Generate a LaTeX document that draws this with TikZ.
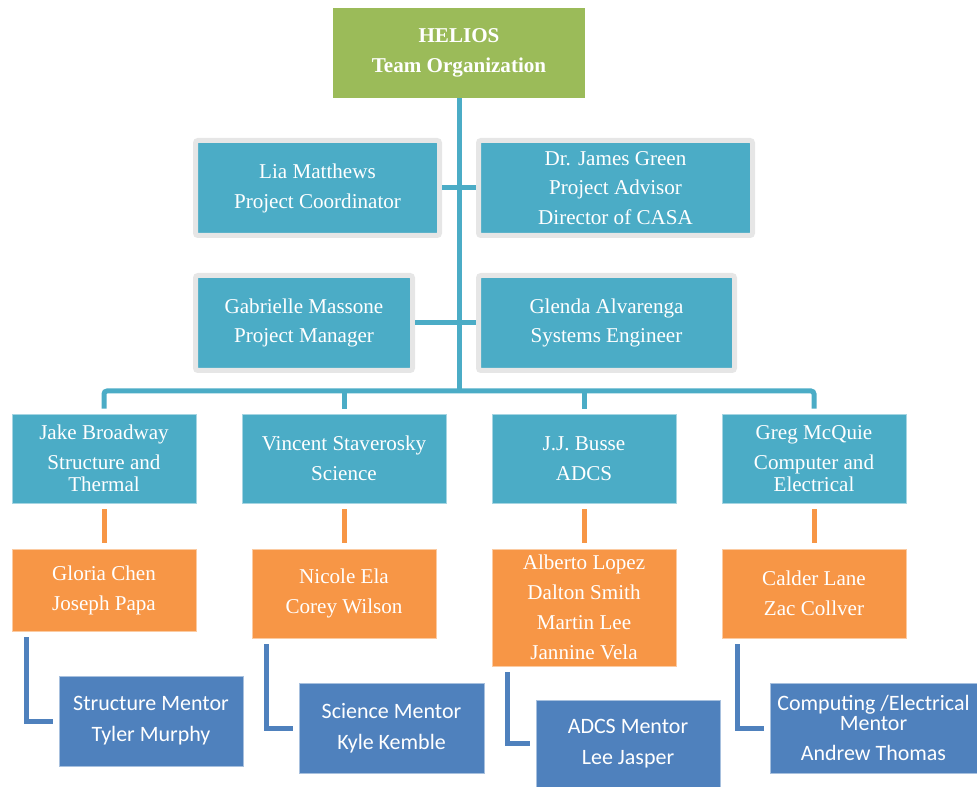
\documentclass[tikz,border=0pt]{standalone}
\usepackage{fontspec}
\setmainfont{Liberation Serif}
\newfontfamily\mentorfont{Carlito}
\usepackage{xcolor}

\definecolor{heliosgreen}{HTML}{9BBB59}
\definecolor{tealbox}{HTML}{4BACC6}
\definecolor{orangebox}{HTML}{F79646}
\definecolor{mentorblue}{HTML}{4F81BD}
\definecolor{framegray}{HTML}{E6E6E6}

\begin{document}
\begin{tikzpicture}
\tikzstyle{box} = [
	shape=rectangle,
	text=white,
	align=center,
	inner sep=0pt,
	font=\fontsize{12}{17}\selectfont
];
\tikzstyle{lead} = [box, fill=tealbox, draw=framegray, line width=0.1cm, rounded corners=0.05cm, minimum height=1.9cm];
\tikzstyle{team} = [box, fill=tealbox, draw=tealbox!50!white, line width=0.4pt, minimum width=3.68cm, minimum height=1.78cm];
\tikzstyle{member} = [box, fill=orangebox, draw=orangebox!50!white, line width=0.4pt, minimum width=3.68cm];
\tikzstyle{mentor} = [box, fill=mentorblue, draw=mentorblue!50!white, line width=0.4pt, font=\mentorfont\fontsize{12.5}{17.5}\selectfont];
\tikzstyle{link} = [line width=0.1cm];

\useasboundingbox (0,0) rectangle (19.54,-15.74);

%top of the chart
\node[box, fill=heliosgreen, minimum width=5.04cm, minimum height=1.8cm, font=\bfseries\fontsize{12}{17}\selectfont]
	(helios) at (9.18,-1.06) {HELIOS\\Team Organization};
\node[lead, minimum width=4.88cm](lia) at (6.35,-3.76) {Lia Matthews\\Project Coordinator};
\node[lead, minimum width=5.48cm](james) at (12.31,-3.76) {Dr. James Green\\Project Advisor\\Director of CASA};
\node[lead, minimum width=4.34cm](gabrielle) at (6.08,-6.46) {Gabrielle Massone\\Project Manager};
\node[lead, minimum width=5.12cm](glenda) at (12.13,-6.46) {Glenda Alvarenga\\Systems Engineer};
\coordinate (bus) at (9.18,-7.82);

%subsystem leads
\node[team](jake) at (2.08,-9.17) {Jake Broadway\\Structure and\\[-4.5pt]Thermal};
\node[team, minimum width=4.08cm](vincent) at (6.88,-9.17) {Vincent Staverosky\\Science};
\node[team](jj) at (11.68,-9.17) {J.J. Busse\\ADCS};
\node[team](greg) at (16.28,-9.17) {Greg McQuie\\Computer and\\[-4.5pt]Electrical};

%team members
\node[member, minimum height=1.64cm](gloria) at (2.08,-11.80) {Gloria Chen\\Joseph Papa};
\node[member, minimum height=1.78cm](nicole) at (6.88,-11.87) {Nicole Ela\\Corey Wilson};
\node[member, minimum height=2.34cm](alberto) at (11.68,-12.15) {Alberto Lopez\\Dalton Smith\\Martin Lee\\Jannine Vela};
\node[member, minimum height=1.78cm](calder) at (16.28,-11.87) {Calder Lane\\Zac Collver};

%mentors
\node[mentor, minimum width=3.68cm, minimum height=1.8cm](structure) at (3.02,-14.42) {Structure Mentor\\Tyler Murphy};
\node[mentor, minimum width=3.70cm, minimum height=1.8cm](science) at (7.83,-14.56) {Science Mentor\\Kyle Kemble};
\node[mentor, minimum width=3.68cm, minimum height=1.74cm](adcs) at (12.56,-14.87) {ADCS Mentor\\Lee Jasper};
\node[mentor, minimum width=4.14cm, minimum height=1.8cm](computing) at (17.47,-14.56) {Computing /Electrical\\[-6.2pt]Mentor\\Andrew Thomas};

%teal tree
\draw[link, color=tealbox] (helios.south) -- (bus);
\draw[link, color=tealbox] (lia.east) -- (james.west);
\draw[link, color=tealbox] (gabrielle.east) -- (glenda.west);
\draw[link, color=tealbox, rounded corners=0.06cm, shorten <=0.1cm, shorten >=0.1cm]
	(jake.north) |- (bus) -| (greg.north);
\draw[link, color=tealbox, shorten <=0.1cm] (vincent.north) -- (vincent.north |- bus);
\draw[link, color=tealbox, shorten <=0.1cm] (jj.north) -- (jj.north |- bus);

%leads to members
\draw[link, color=orangebox, shorten <=0.12cm, shorten >=0.12cm]
	(jake.south) edge[] (gloria.north)
	(vincent.south) edge[] (nicole.north)
	(jj.south) edge[] (alberto.north)
	(greg.south) edge[] (calder.north)
;

%members to mentors
\draw[link, color=mentorblue, shorten <=0.12cm, shorten >=0.12cm]
	([xshift=0.3cm]gloria.south west) |- (structure.west);
\draw[link, color=mentorblue, shorten <=0.12cm, shorten >=0.12cm]
	([xshift=0.3cm]nicole.south west) |- (science.west);
\draw[link, color=mentorblue, shorten <=0.12cm, shorten >=0.12cm]
	([xshift=0.32cm]alberto.south west) |- (adcs.west);
\draw[link, color=mentorblue, shorten <=0.12cm, shorten >=0.12cm]
	([xshift=0.32cm]calder.south west) |- (computing.west);

\end{tikzpicture}
\end{document}
